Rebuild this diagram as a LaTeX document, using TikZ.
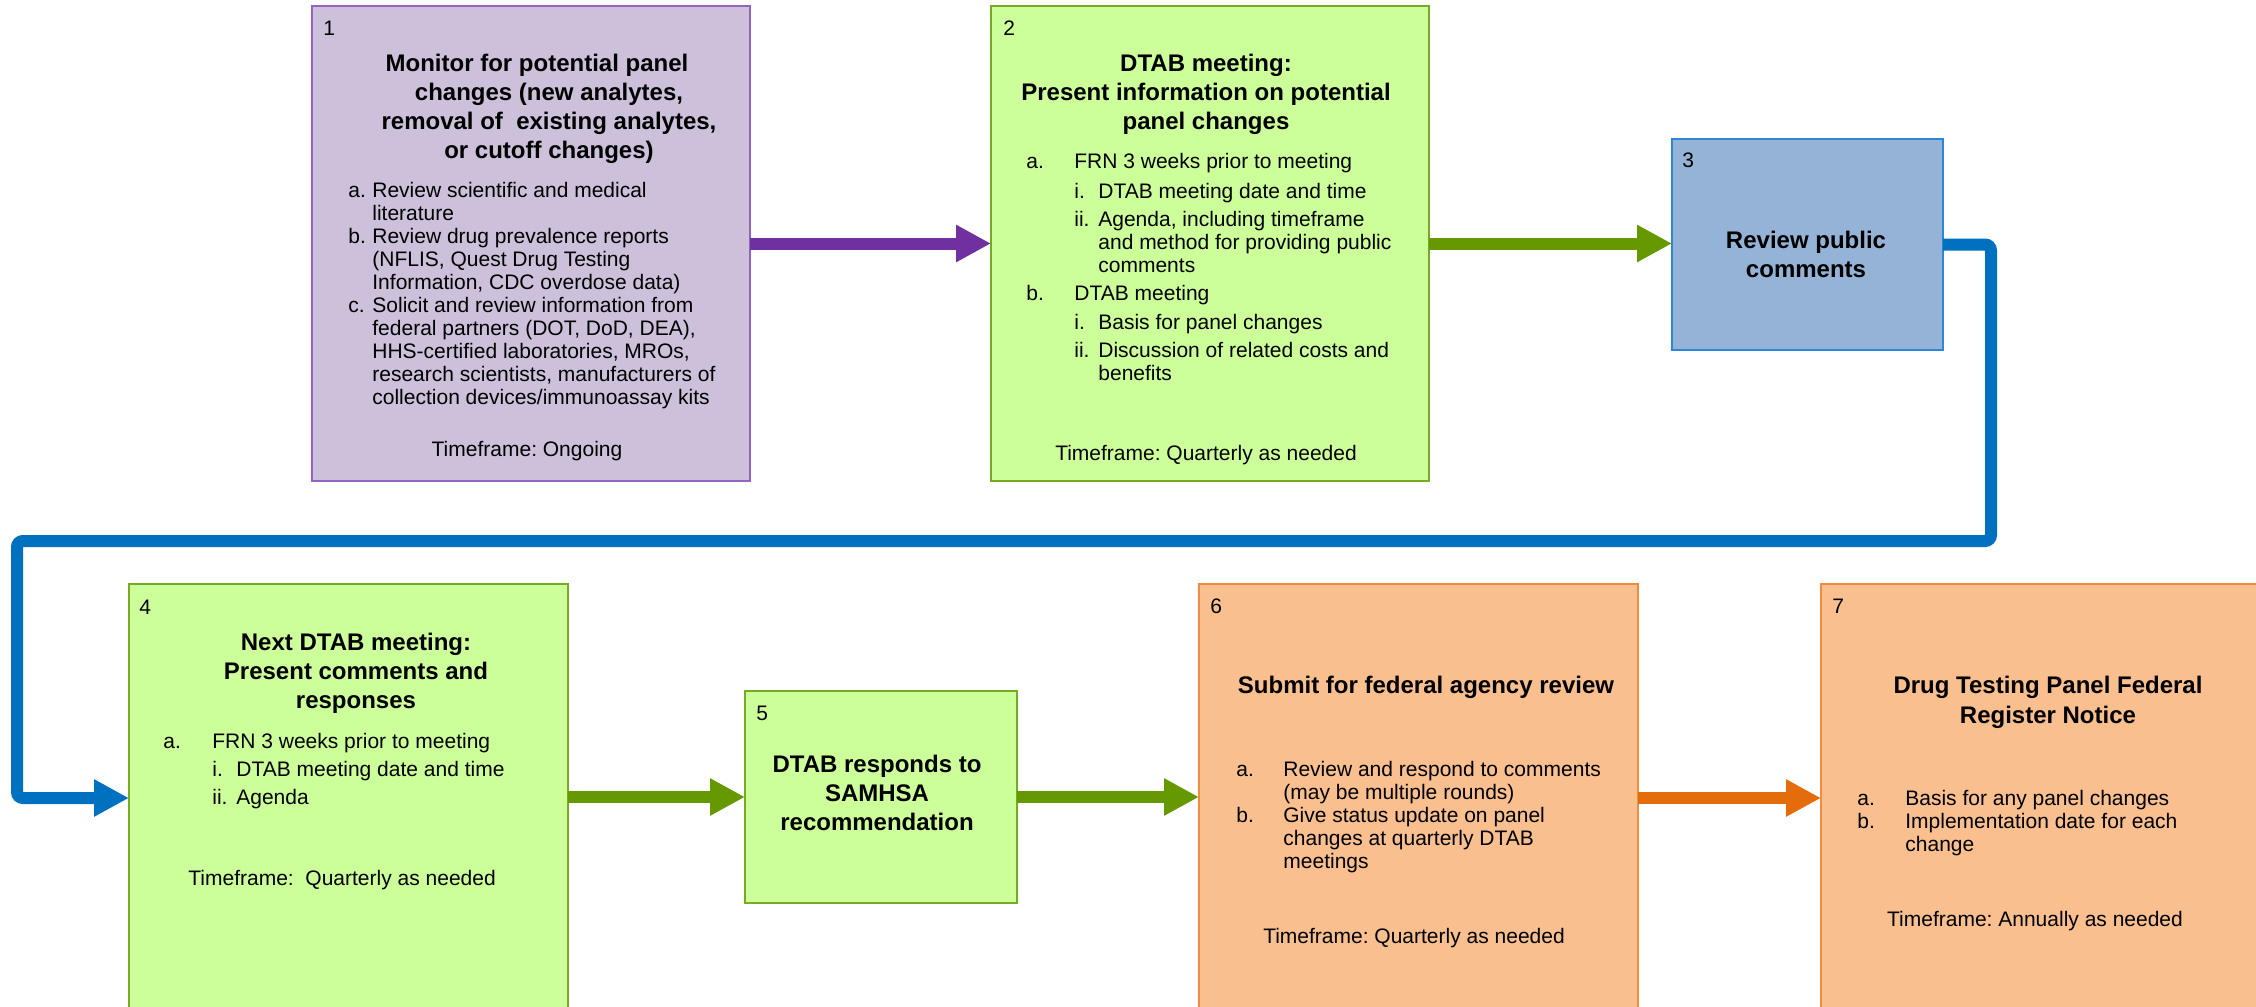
\documentclass[tikz,border=0pt]{standalone}
\usepackage{fontspec}
\setmainfont{Liberation Sans}
\usepackage{xcolor}
\usetikzlibrary{arrows.meta}
\frenchspacing

\definecolor{lavender}{HTML}{CCC0DA}
\definecolor{lavenderline}{HTML}{9464C4}
\definecolor{plum}{HTML}{7030A0}
\definecolor{lime}{HTML}{CCFF99}
\definecolor{limeline}{HTML}{77AA22}
\definecolor{leaf}{HTML}{669900}
\definecolor{steel}{HTML}{95B3D7}
\definecolor{steelline}{HTML}{2E86D8}
\definecolor{sea}{HTML}{0070C0}
\definecolor{peach}{HTML}{F9BF8F}
\definecolor{peachline}{HTML}{F08C40}
\definecolor{rust}{HTML}{E46C0A}

\tikzset{
  stagebox/.style={rectangle,inner sep=0pt,outer sep=0pt,line width=0.6pt,anchor=north west},
  num/.style={inner sep=0pt,anchor=base west,font=\fontsize{10.5}{11.5}\selectfont},
  ttl/.style={inner sep=0pt,anchor=base,font=\bfseries\fontsize{12}{14.5}\selectfont},
  lst/.style={inner sep=0pt,anchor=base west,font=\fontsize{10.5}{11.5}\selectfont},
  tfr/.style={inner sep=0pt,anchor=base,font=\fontsize{10.5}{11.5}\selectfont},
  flow/.style={line width=6pt,-{Triangle[length=17.5pt,width=17.5pt]}}
}

\begin{document}
\begin{tikzpicture}[x=0.5pt,y=-0.5pt]
\useasboundingbox (0,0) rectangle (2256,1007);
\clip (0,0) rectangle (2256,1007);

\node[stagebox,fill=lavender,draw=lavenderline,minimum width=219pt,minimum height=237.5pt] (monitor) at (312,6) {};
\node[stagebox,fill=lime,draw=limeline,minimum width=219pt,minimum height=237.5pt] (present) at (991,6) {};
\node[stagebox,fill=steel,draw=steelline,minimum width=135.5pt,minimum height=105.5pt] (review) at (1672,139) {};
\node[stagebox,fill=lime,draw=limeline,minimum width=219.5pt,minimum height=214pt] (nextmeet) at (129,584) {};
\node[stagebox,fill=lime,draw=limeline,minimum width=136pt,minimum height=106pt] (respond) at (745,691) {};
\node[stagebox,fill=peach,draw=peachline,minimum width=219.5pt,minimum height=214pt] (fedreview) at (1199,584) {};
\node[stagebox,fill=peach,draw=peachline,minimum width=224.5pt,minimum height=214pt] (notice) at (1821,584) {};

\coordinate (turnR) at (1991,541);
\coordinate (turnL) at (17,541);

\draw[flow,draw=plum] (monitor.east) -- (present.west);
\draw[flow,draw=leaf] (present.east) -- (present.east -| review.west);
\draw[flow,draw=sea,rounded corners=3pt] (review.east) -| (turnR) -- (turnL) |- (nextmeet.west);
\draw[flow,draw=leaf] (nextmeet.east |- respond.west) -- (respond.west);
\draw[flow,draw=leaf] (respond.east) -- (respond.east -| fedreview.west);
\draw[flow,draw=rust] (fedreview.east |- notice.west) -- (notice.west);

\node[num] (n1) at (323,35) {1};
\node[ttl] (t1) at (549,71) {\begin{tabular}[t]{@{}c@{}}Monitor for potential panel\hspace*{12pt}\\changes (new analytes,\\removal of\ \ existing analytes,\\or cutoff changes)\end{tabular}};
\node[lst] (l1) at (348,197) {\begin{tabular}[t]{@{}p{12pt}@{}l@{}}
a.&Review scientific and medical\\
&literature\\
b.&Review drug prevalence reports\\
&(NFLIS, Quest Drug Testing\\
&Information, CDC overdose data)\\
c.&Solicit and review information from\\
&federal partners (DOT, DoD, DEA),\\
&HHS-certified laboratories, MROs,\\
&research scientists, manufacturers of\\
&collection devices/immunoassay kits\end{tabular}};
\node[tfr] (f1) at (527,456) {Timeframe: Ongoing};

\node[num] (n2) at (1003,35) {2};
\node[ttl] (t2) at (1206,71) {\begin{tabular}[t]{@{}c@{}}DTAB meeting:\\Present information on potential\\panel changes\end{tabular}};
\node[lst] (l2) at (1026,168) {\begin{tabular}[t]{@{}p{24pt}@{}p{12pt}@{}l@{}}
a.&\multicolumn{2}{@{}l@{}}{FRN 3 weeks prior to meeting}\\[3.5pt]
&i.&DTAB meeting date and time\\[2.5pt]
&ii.&Agenda, including timeframe\\
&&and method for providing public\\
&&comments\\[2.5pt]
b.&\multicolumn{2}{@{}l@{}}{DTAB meeting}\\[3pt]
&i.&Basis for panel changes\\[2.5pt]
&ii.&Discussion of related costs and\\
&&benefits\end{tabular}};
\node[tfr] (f2) at (1206,460) {Timeframe: Quarterly as needed};

\node[num] (n3) at (1682,167) {3};
\node[ttl] (t3) at (1806,248) {\begin{tabular}[t]{@{}c@{}}Review public\\comments\end{tabular}};

\node[num] (n4) at (139,614) {4};
\node[ttl] (t4) at (356,650) {\begin{tabular}[t]{@{}c@{}}Next DTAB meeting:\\Present comments and\\responses\end{tabular}};
\node[lst] (l4) at (163,748) {\begin{tabular}[t]{@{}p{24.5pt}@{}p{12pt}@{}l@{}}
a.&\multicolumn{2}{@{}l@{}}{FRN 3 weeks prior to meeting}\\[2.5pt]
&i.&DTAB meeting date and time\\[2.5pt]
&ii.&Agenda\end{tabular}};
\node[lst] (f4) at (188,885) {Timeframe:\ \ Quarterly as needed};

\node[num] (n5) at (756,720) {5};
\node[ttl] (t5) at (877,772) {\begin{tabular}[t]{@{}c@{}}DTAB responds to\\SAMHSA\\recommendation\end{tabular}};

\node[num] (n6) at (1210,613) {6};
\node[ttl] (t6) at (1426,693) {Submit for federal agency review};
\node[lst] (l6) at (1236,776) {\begin{tabular}[t]{@{}p{23.5pt}@{}l@{}}
a.&Review and respond to comments\\
&(may be multiple rounds)\\
b.&Give status update on panel\\
&changes at quarterly DTAB\\
&meetings\end{tabular}};
\node[tfr] (f6) at (1414,943) {Timeframe: Quarterly as needed};

\node[num] (n7) at (1832,613) {7};
\node[ttl] (t7) at (2048,693) {\begin{tabular}[t]{@{}c@{}}Drug Testing Panel Federal\\[0.5pt]Register Notice\end{tabular}};
\node[lst] (l7) at (1857,805) {\begin{tabular}[t]{@{}p{24pt}@{}l@{}}
a.&Basis for any panel changes\\
b.&Implementation date for each\\
&change\end{tabular}};
\node[tfr] (f7) at (2035,926) {Timeframe: Annually as needed};
\end{tikzpicture}
\end{document}
